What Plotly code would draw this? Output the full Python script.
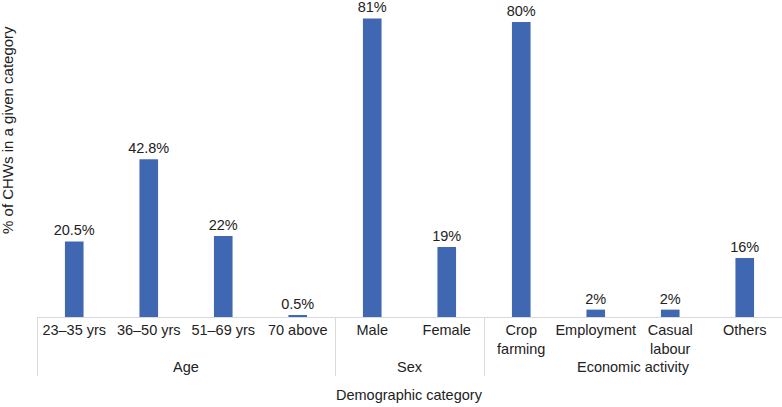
import plotly.graph_objects as go

groups = ["Age", "Age", "Age", "Age", "Sex", "Sex",
          "Economic activity", "Economic activity", "Economic activity", "Economic activity"]
categories = ["23–35 yrs", "36–50 yrs", "51–69 yrs", "70 above", "Male", "Female",
              "Crop<br>farming", "Employment", "Casual<br>labour", "Others"]
values = [20.5, 42.8, 22, 0.5, 81, 19, 80, 2, 2, 16]
labels = ["20.5%", "42.8%", "22%", "0.5%", "81%", "19%", "80%", "2%", "2%", "16%"]

FONT = "Liberation Sans, Arial, sans-serif"
FS = 14.5

fig = go.Figure(go.Bar(
    x=[groups, categories],
    y=values,
    text=labels,
    textposition="outside",
    constraintext="none",
    textfont=dict(size=FS, color="#222222", family=FONT),
    marker=dict(color="#4068B2", line=dict(width=0)),
    cliponaxis=False,
))

fig.update_layout(
    width=782, height=407,
    margin=dict(l=37, r=0, t=0, b=90, autoexpand=False),
    paper_bgcolor="white", plot_bgcolor="white",
    bargap=0.75,
    showlegend=False,
    font=dict(family=FONT, size=FS, color="#222222"),
    xaxis=dict(
        type="multicategory", automargin=False,
        showline=True, linecolor="#d9d9d9", linewidth=1,
        showdividers=True, dividercolor="#d9d9d9", dividerwidth=1,
        ticks="", showgrid=False, tickangle=0,
        tickfont=dict(size=FS, color="#222222", family=FONT),
    ),
    yaxis=dict(
        range=[0, 86], visible=False, showgrid=False, zeroline=False,
        automargin=False,
    ),
    annotations=[
        dict(text="Demographic category", xref="paper", yref="paper",
             x=0.5, y=0, yshift=-78, showarrow=False, yanchor="middle",
             font=dict(size=FS, color="#222222", family=FONT)),
        dict(text="% of CHWs in a given category", xref="paper", yref="paper",
             x=0, xshift=-29, y=0.59, showarrow=False, textangle=-90,
             xanchor="center", yanchor="middle",
             font=dict(size=15, color="#222222", family=FONT)),
    ],
)

fig.write_html(
    "out.html",
    config={"displayModeBar": False},
    post_script="document.body.style.margin='0';document.body.style.overflow='hidden';",
)
